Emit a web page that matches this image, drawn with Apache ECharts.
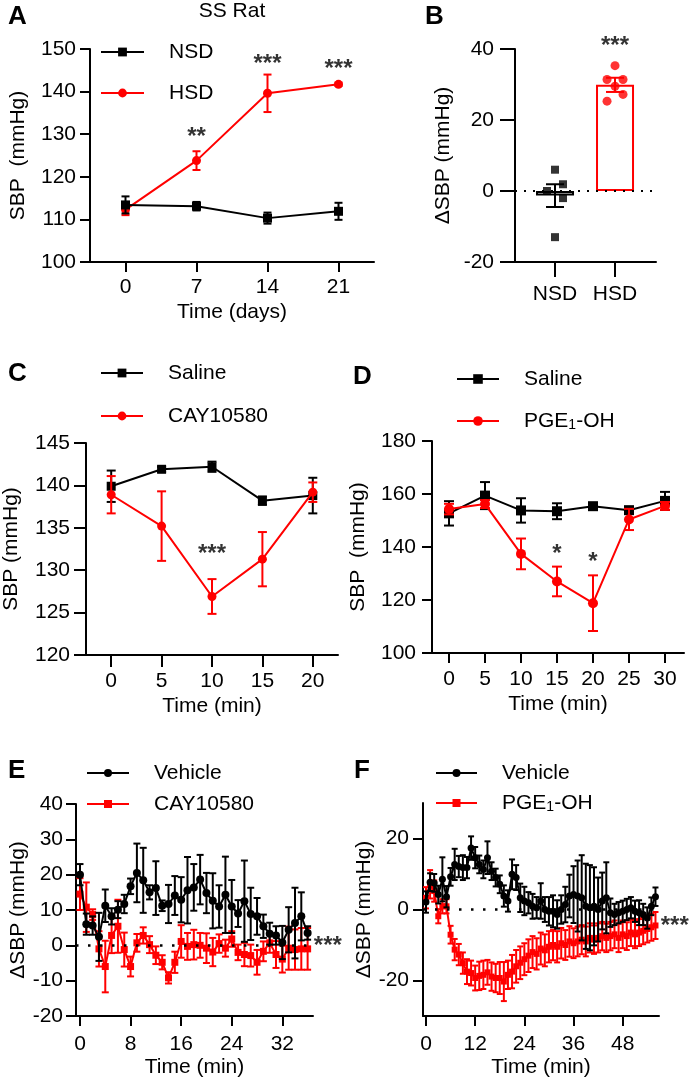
<!DOCTYPE html>
<html><head><meta charset="utf-8">
<script src="https://cdn.jsdelivr.net/npm/echarts@6/dist/echarts.min.js"></script>
<style>html,body{margin:0;padding:0;background:#fff}#c{width:692px;height:1082px}</style>
</head><body><div id="c"></div>
<script>
// ---------- DATA ----------
// Panel A
const aDays = [0, 7, 14, 21];
const aNSD = [113.4, 113.1, 110.3, 111.9];
const aNSDsem = [2.0, 1.0, 1.3, 2.0];
const aHSD = [112.3, 123.8, 139.6, 141.7];
const aHSDsem = [1.3, 2.2, 4.4, 0.4];
const aStarX = [7, 14, 21];
const aStarY = [130.6, 147.8, 146.7];
const aStarText = ['**', '***', '***'];
const aTicksX = [0, 7, 14, 21];
const aTicksY = [100, 110, 120, 130, 140, 150];
// Panel B
const bGroups = ['NSD', 'HSD'];
const bMean = [-1.3, 29.9];
const bSem = [3.2, 2.0];
const bNSDPts = [6.0, 1.9, 0.0, -2.0, -13.0];
const bHSDPts = [35.3, 31.4, 31.4, 29.5, 25.3, 27.2];
const bStarY = [42.4];
const bTicksY = [-20, 0, 20, 40];
// Panel C
const cTime = [0, 5, 10, 15, 20];
const cSaline = [139.9, 141.9, 142.2, 138.2, 138.8];
const cSalineSem = [1.85, 0.3, 0.6, 0.5, 2.1];
const cCAY = [138.9, 135.2, 126.9, 131.3, 139.2];
const cCAYSem = [2.2, 4.1, 2.05, 3.2, 1.15];
const cStarX = [10], cStarY = [132.6], cStarText = ['***'];
const cTicksX = [0, 5, 10, 15, 20];
const cTicksY = [120, 125, 130, 135, 140, 145];
// Panel D
const dTime = [0, 5, 10, 15, 20, 25, 30];
const dSaline = [152.7, 159.4, 153.8, 153.5, 155.4, 153.9, 157.4];
const dSalineSem = [4.6, 5.1, 4.6, 3.0, 1.0, 1.0, 3.4];
const dPGE = [154.3, 156.2, 137.4, 127.0, 118.8, 150.4, 155.5];
const dPGESem = [2.0, 1.5, 5.8, 5.6, 10.5, 4.0, 1.5];
const dStarX = [15, 20], dStarY = [139.5, 136.4], dStarText = ['*', '*'];
const dTicksX = [0, 5, 10, 15, 20, 25, 30];
const dTicksY = [100, 120, 140, 160, 180];
// Panel E
const eTime = [0,1,2,3,4,5,6,7,8,9,10,11,12,13,14,15,16,17,18,19,20,21,22,23,24,25,26,27,28,29,30,31,32,33,34,35,36];
const eVeh = [20.0,6.0,5.6,2.4,11.2,8.2,10.1,11.7,16.7,20.5,18.4,15.0,16.2,11.2,11.7,14.1,12.9,15.6,16.4,18.6,14.8,12.6,11.0,14.3,11.0,9.0,12.5,8.9,8.2,5.4,3.3,2.8,0.8,4.4,6.3,8.2,3.5];
const eVehSem = [3.0,3.0,2.6,6.8,4.6,2.3,2.4,2.6,2.2,8.3,9.2,2.0,7.6,1.5,5.4,5.5,6.4,9.4,6.6,7.0,5.7,7.8,6.0,10.8,7.5,3.8,11.5,7.4,5.2,3.3,3.1,2.6,4.7,6.4,10.0,6.8,1.9];
const eCAY = [14.5,10.8,8.7,-1.0,-6.0,2.8,5.4,-1.2,-6.0,0.7,2.8,0.2,-2.8,-4.8,-9.2,-4.8,1.1,-0.3,0.2,0.0,-0.8,-1.9,0.5,-0.8,1.8,-2.0,-2.6,-2.9,-4.8,-1.7,0.7,-2.6,-3.9,-0.8,-1.2,-1.0,-1.0];
const eCAYSem = [4.5,7.0,1.5,5.0,7.3,5.0,7.5,4.8,2.8,2.5,2.3,2.4,2.5,2.0,1.6,3.0,4.6,3.8,4.2,3.5,4.2,4.0,2.6,2.4,2.2,2.2,3.3,3.1,3.5,2.8,2.8,3.8,3.8,6.1,5.7,5.9,5.9];
const eStarX = [39.2], eStarY = [1.4], eStarText = ['***'];
const eTicksX = [0, 8, 16, 24, 32];
const eTicksY = [-20, -10, 0, 10, 20, 30, 40];
// Panel F
const fTime = [0,1,2,3,4,5,6,7,8,9,10,11,12,13,14,15,16,17,18,19,20,21,22,23,24,25,26,27,28,29,30,31,32,33,34,35,36,37,38,39,40,41,42,43,44,45,46,47,48,49,50,51,52,53,54,55,56];
const fVeh = [2.1,7.7,7.5,4.2,8.5,3.6,9.2,12.7,12.1,11.8,11.8,17.3,14.6,12.7,11.3,14.6,10.8,9.0,7.1,3.8,2.4,9.9,9.0,3.3,2.4,1.9,0.9,0.5,2.4,0.0,-0.5,-0.5,-1.4,0.0,1.4,3.8,4.2,3.8,3.3,0.9,0.5,0.9,0.0,2.4,3.3,-0.9,-1.4,-0.9,-0.5,0.0,0.5,-0.5,-0.9,-1.4,-2.4,0.9,3.6];
const fVehSem = [3,2.5,2.5,2.5,6.2,3,2.5,4.4,3,3.5,3,3.3,3,2.5,2.5,4.6,2.5,2.5,2.5,3,3,4.2,3.5,4,4,3,3.5,3,5,3.5,4,4.5,4,4,5,6,8,10,12,12,12,11,9,8,10,4,3,3,3,3,3,3,3.5,3,3,2.5,2.6];
const fPGE = [3.3,7.1,5.2,-1.9,0.9,0.9,-7.1,-11.3,-12.7,-15.1,-17.5,-17.9,-19.3,-18.7,-18.4,-17.7,-18.9,-19.3,-19.3,-20.3,-18.4,-17.5,-16.0,-15.0,-14.0,-13.0,-12.0,-12.5,-11.0,-11.5,-10.5,-10.0,-10.5,-9.5,-10.0,-9.0,-9.5,-9.0,-8.5,-9.0,-8.0,-8.5,-8.0,-7.5,-8.0,-7.5,-7.0,-8.0,-7.0,-7.5,-6.5,-7.0,-6.5,-6.0,-5.5,-5.0,-4.5];
const fPGESem = [3,4,3,2,2,2,2.5,3,3,3,3.5,3.5,3.5,4,4,3.5,4,4,4.5,5.5,4,4.7,4.6,4.6,4.5,4.6,4.5,4.4,4.5,4.5,4.4,4.3,4.4,4.3,4.2,4.3,4.2,4.2,4.1,4.2,4.1,4.0,4.1,4.0,4.0,4.0,3.9,4.0,3.9,3.9,3.8,3.9,3.8,3.8,3.8,3.8,3.8];
const fStarX = [60.7], fStarY = [-3.1], fStarText = ['***'];
const fTicksX = [0, 12, 24, 36, 48];
const fTicksY = [-20, 0, 20];
const zeroRef = 0;

// ---------- STYLE ----------
const FONT = "'Liberation Sans', Arial, Helvetica, sans-serif";
const RED = '#ff0000', BLK = '#000000';

function axis(kind, gi, min, max, ticks, o) {
  o = o || {};
  return {
    type: 'value', gridIndex: gi, min: min, max: max,
    position: kind === 'x' ? 'bottom' : 'left',
    name: o.name || '', nameLocation: 'middle', nameGap: o.nameGap || 40,
    nameTextStyle: {color: BLK, fontSize: 21, fontFamily: FONT},
    axisLine: {show: true, onZero: false, lineStyle: {color: BLK, width: 2}},
    axisTick: {show: true, length: o.tick || 10, lineStyle: {color: BLK, width: 2}, customValues: ticks},
    axisLabel: {show: true, color: BLK, fontSize: 21, fontFamily: FONT, margin: o.margin || 14,
      customValues: ticks, formatter: o.fmt || (v => String(v))},
    splitLine: {show: false}, minorTick: {show: false}
  };
}
function lineS(name, gi, xs, ys, color, symbol, size, z) {
  return {type: 'line', name: name, xAxisIndex: gi, yAxisIndex: gi, z: z || 3,
    data: xs.map((x, i) => [x, ys[i]]), symbol: symbol, symbolSize: size, showSymbol: true,
    showAllSymbol: true, clip: false,
    lineStyle: {color: color, width: 2}, itemStyle: {color: color, borderWidth: 0}, emphasis: {disabled: true}};
}
function errS(gi, xs, ys, es, color, cap, z, extra) {
  const s = {type: 'custom', xAxisIndex: gi, yAxisIndex: gi, silent: true, z: z || 2, clip: false,
    data: xs.map((x, i) => [x, ys[i] - es[i], ys[i] + es[i]]),
    encode: {x: 0, y: [1, 2]},
    renderItem: function (params, api) {
      const x = api.value(0);
      const lo = api.coord([x, api.value(1)]);
      const hi = api.coord([x, api.value(2)]);
      const h = cap / 2;
      const st = {stroke: color, lineWidth: 2};
      return {type: 'group', children: [
        {type: 'line', shape: {x1: lo[0], y1: lo[1], x2: hi[0], y2: hi[1]}, style: st},
        {type: 'line', shape: {x1: lo[0] - h, y1: lo[1], x2: lo[0] + h, y2: lo[1]}, style: st},
        {type: 'line', shape: {x1: hi[0] - h, y1: hi[1], x2: hi[0] + h, y2: hi[1]}, style: st}
      ]};
    }};
  return Object.assign(s, extra || {});
}
function starS(gi, xs, ys, texts) {
  return {type: 'scatter', xAxisIndex: gi, yAxisIndex: gi, clip: false, silent: true, z: 10,
    symbolSize: 1, itemStyle: {color: 'rgba(0,0,0,0)'},
    data: xs.map((x, i) => ({value: [x, ys[i]], label: {formatter: texts[i]}})),
    label: {show: true, position: 'inside', color: BLK, fontSize: 24, fontWeight: 'bold', fontFamily: FONT, offset: [0, 6]}};
}
function zeroLine(dash, width) {
  return {silent: true, symbol: 'none', label: {show: false},
    lineStyle: {color: BLK, width: width, type: dash}, data: [{yAxis: zeroRef}]};
}
// series names may carry a panel prefix ("E:") so each legend picks its own marker
function legendFor(names, left, top, gap, iw, ih) {
  return {orient: 'vertical', left: left, top: top, itemGap: gap, itemWidth: iw, itemHeight: ih,
    padding: 0, selectedMode: false, data: names,
    formatter: n => {
      const t = n.replace(/^[A-F]:/, '');
      return '{g| }' + (t === 'PGE1-OH' ? 'PGE{s|1}-OH' : t);
    },
    textStyle: {color: BLK, fontSize: 21, fontFamily: FONT, lineHeight: 22,
      rich: {g: {width: 20}, s: {fontSize: 14, fontFamily: FONT, lineHeight: 14, verticalAlign: 'bottom', padding: [6, 0, 0, 0]}}}};
}
function label(text, x, y, size, bold, align) {
  return {type: 'text', x: x, y: y, silent: true,
    style: {text: text, fill: BLK, fontSize: size, fontWeight: bold ? 'bold' : 'normal', fontFamily: FONT,
      align: align || 'left', verticalAlign: 'middle'}};
}

const grids = [
  {left: 90, top: 49, width: 284, height: 213},
  {left: 515, top: 49, width: 141, height: 213},
  {left: 86, top: 443, width: 252, height: 212},
  {left: 432, top: 441, width: 252, height: 212},
  {left: 76, top: 804, width: 237, height: 212},
  {left: 423, top: 803, width: 236, height: 213}
].map(g => Object.assign({outerBoundsMode: 'none', containLabel: false}, g));

const xAxes = [
  axis('x', 0, -3.5, 24.5, aTicksX, {name: 'Time (days)', nameGap: 40, margin: 15}),
  axis('x', 1, -0.667, 1.683, [0, 1], {tick: 15, margin: 22, fmt: v => bGroups[v]}),
  axis('x', 2, -2.5, 22.5, cTicksX, {name: 'Time (min)', nameGap: 41, margin: 16, tick: 12}),
  axis('x', 3, -2.36, 32.64, dTicksX, {name: 'Time (min)', nameGap: 41, margin: 16}),
  axis('x', 4, -0.63, 36.85, eTicksX, {name: 'Time (min)', nameGap: 41, margin: 18}),
  axis('x', 5, -0.73, 56.86, fTicksX, {name: 'Time (min)', nameGap: 41, margin: 18})
];
const yAxes = [
  axis('y', 0, 100, 150, aTicksY, {name: 'SBP  (mmHg)', nameGap: 61, margin: 14}),
  axis('y', 1, -20, 40, bTicksY, {name: '\u0394SBP (mmHg)', nameGap: 61, margin: 21, tick: 15}),
  axis('y', 2, 120, 145, cTicksY, {name: 'SBP (mmHg)', nameGap: 64, margin: 16, tick: 12}),
  axis('y', 3, 100, 180, dTicksY, {name: 'SBP  (mmHg)', nameGap: 63, margin: 16}),
  axis('y', 4, -20, 40, eTicksY, {name: '\u0394SBP (mmHg)', nameGap: 46, margin: 13}),
  axis('y', 5, -30, 30, fTicksY, {name: '\u0394SBP (mmHg)', nameGap: 47, margin: 14})
];

const nsdJitter = [[0, 0], [8, 0], [-8, 0], [8, 0], [0, 0]];
const hsdJitter = [[0, 0], [-8, 0], [8, 0], [0, 0], [-8, 0], [8, 0]];

const series = [
  // A
  errS(0, aDays, aHSD, aHSDsem, RED, 8, 2),
  lineS('HSD', 0, aDays, aHSD, RED, 'circle', 9),
  errS(0, aDays, aNSD, aNSDsem, BLK, 8, 4),
  lineS('NSD', 0, aDays, aNSD, BLK, 'rect', 9, 5),
  starS(0, aStarX, aStarY, aStarText),
  // B
  {type: 'bar', xAxisIndex: 1, yAxisIndex: 1, barWidth: 38, z: 2, silent: true,
    data: [{value: [0, bMean[0]], itemStyle: {borderColor: BLK}}, {value: [1, bMean[1]], itemStyle: {borderColor: RED}}],
    itemStyle: {color: '#ffffff', borderWidth: 2},
    markLine: zeroLine([2, 7], 2)},
  errS(1, [0], [bMean[0]], [bSem[0]], BLK, 18, 4),
  errS(1, [1], [bMean[1]], [bSem[1]], RED, 18, 4),
  {type: 'scatter', xAxisIndex: 1, yAxisIndex: 1, z: 5, silent: true, clip: false, symbol: 'rect', symbolSize: 8,
    itemStyle: {color: BLK}, data: bNSDPts.map((v, i) => ({value: [0, v], symbolOffset: nsdJitter[i]}))},
  {type: 'scatter', xAxisIndex: 1, yAxisIndex: 1, z: 5, silent: true, clip: false, symbol: 'circle', symbolSize: 9,
    itemStyle: {color: RED}, data: bHSDPts.map((v, i) => ({value: [1, v], symbolOffset: hsdJitter[i]}))},
  starS(1, [1], bStarY, ['***']),
  // C
  errS(2, cTime, cSaline, cSalineSem, BLK, 9, 2),
  lineS('C:Saline', 2, cTime, cSaline, BLK, 'rect', 9),
  errS(2, cTime, cCAY, cCAYSem, RED, 9, 4),
  lineS('C:CAY10580', 2, cTime, cCAY, RED, 'circle', 9, 5),
  starS(2, cStarX, cStarY, cStarText),
  // D
  errS(3, dTime, dSaline, dSalineSem, BLK, 10, 2),
  lineS('D:Saline', 3, dTime, dSaline, BLK, 'rect', 10),
  errS(3, dTime, dPGE, dPGESem, RED, 10, 4),
  lineS('D:PGE1-OH', 3, dTime, dPGE, RED, 'circle', 10, 5),
  starS(3, dStarX, dStarY, dStarText),
  // E
  errS(4, eTime, eCAY, eCAYSem, RED, 7, 2, {markLine: zeroLine([2.5, 9.5], 2.5)}),
  lineS('E:CAY10580', 4, eTime, eCAY, RED, 'rect', 7),
  errS(4, eTime, eVeh, eVehSem, BLK, 7, 4),
  lineS('E:Vehicle', 4, eTime, eVeh, BLK, 'circle', 8, 5),
  starS(4, eStarX, eStarY, eStarText),
  // F
  errS(5, fTime, fPGE, fPGESem, RED, 6, 2, {markLine: zeroLine([2.5, 9.5], 2.5)}),
  lineS('F:PGE1-OH', 5, fTime, fPGE, RED, 'rect', 6),
  errS(5, fTime, fVeh, fVehSem, BLK, 6, 4),
  lineS('F:Vehicle', 5, fTime, fVeh, BLK, 'circle', 7, 5),
  starS(5, fStarX, fStarY, fStarText)
];

const option = {
  animation: false,
  backgroundColor: '#ffffff',
  textStyle: {fontFamily: FONT},
  grid: grids, xAxis: xAxes, yAxis: yAxes,
  legend: [
    legendFor(['NSD', 'HSD'], 100, 41, 19, 43, 11),
    legendFor(['C:Saline', 'C:CAY10580'], 100, 362, 21, 42, 11),
    legendFor(['D:Saline', 'D:PGE1-OH'], 456, 368, 20, 42, 12),
    legendFor(['E:Vehicle', 'E:CAY10580'], 86, 762, 9, 42, 10),
    legendFor(['F:Vehicle', 'F:PGE1-OH'], 435, 762, 8, 41, 10)
  ],
  graphic: [
    label('A', 8, 17, 26, true), label('B', 425, 17, 26, true),
    label('C', 8, 374, 26, true), label('D', 353, 377, 26, true),
    label('E', 8, 771, 26, true), label('F', 354, 771, 26, true),
    label('SS Rat', 232, 11, 21, false, 'center')
  ],
  series: series
};
const chart = echarts.init(document.getElementById('c'), null, {renderer: 'canvas'});
chart.setOption(option);
</script></body></html>
